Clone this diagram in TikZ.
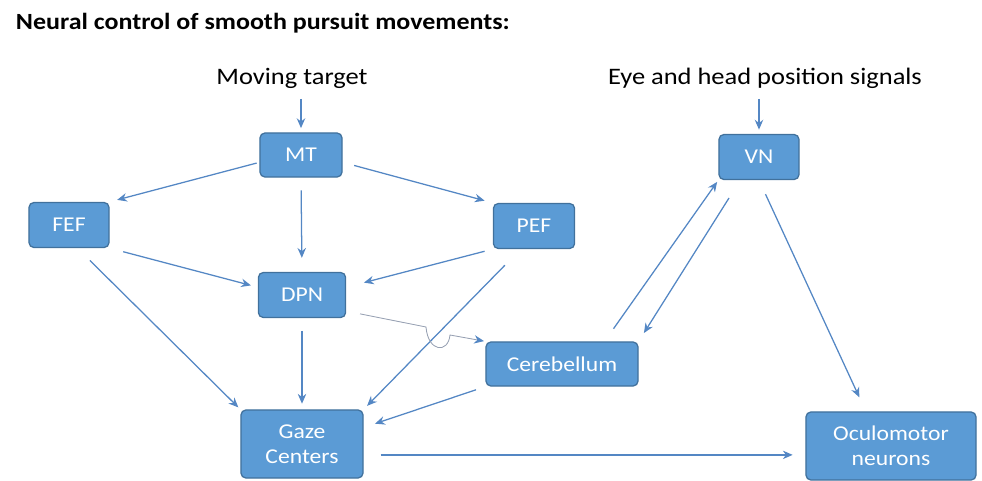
\documentclass[tikz,border=0pt]{standalone}
\usepackage{fontspec}
\setmainfont{Carlito}[FakeStretch=1.12]
\usepackage{xcolor}
\usetikzlibrary{arrows.meta}
\definecolor{boxblue}{RGB}{91,155,213}
\definecolor{boxedge}{RGB}{65,113,156}
\definecolor{lineblue}{RGB}{84,135,196}
\definecolor{hopgray}{RGB}{150,160,178}

\begin{document}
\begin{tikzpicture}[x=0.025cm, y=-0.025cm, >={Stealth[length=7pt,width=6pt]},
    area/.style={draw=boxedge, fill=boxblue, line width=0.9pt, rounded corners=3.5pt, text=white, font=\fontsize{15}{18}\selectfont, align=center, inner sep=0pt},
    link/.style={->, lineblue, line width=0.9pt}]
  \useasboundingbox (0,0) rectangle (982,481);

  \node[anchor=west, font=\bfseries\fontsize{16.5}{19}\selectfont] (title) at (11,23) {Neural control of smooth pursuit movements:};
  \node[font=\fontsize{16.8}{20}\selectfont] (target) at (292,78) {Moving target};
  \node[font=\fontsize{16.8}{20}\selectfont] (signals) at (765,78) {Eye and head position signals};

  \node[area, minimum width=2.05cm, minimum height=1.1cm] (mt) at (301,155) {MT};
  \node[area, minimum width=2.0cm, minimum height=1.125cm] (fef) at (69,225) {FEF};
  \node[area, minimum width=2.03cm, minimum height=1.125cm] (pef) at (534,226) {PEF};
  \node[area, minimum width=2.18cm, minimum height=1.125cm] (dpn) at (302,295) {DPN};
  \node[area, minimum width=3.8cm, minimum height=1.1cm] (cereb) at (562,364) {Cerebellum};
  \node[area, minimum width=3.05cm, minimum height=1.7cm] (gaze) at (302,444) {Gaze\\Centers};
  \node[area, minimum width=2.0cm, minimum height=1.125cm] (vn) at (759,157) {VN};
  \node[area, minimum width=4.25cm, minimum height=1.7cm] (oculo) at (891,446) {Oculomotor\\neurons};

  \coordinate (hopin) at (426,327);
  \coordinate (hopout) at (450,335);

  \draw[link, shorten <=4pt, shorten >=3pt] (target.south -| mt.north) -- (mt.north);
  \draw[link, shorten <=4pt, shorten >=3pt] (signals.south -| vn.north) -- (vn.north);
  \draw[link, shorten <=2pt, shorten >=5.5pt] (mt.190) -- (fef.north east);
  \draw[link, shorten <=8.5pt, shorten >=6pt] (mt.-10) -- (pef.north west);
  \draw[link, shorten <=9pt, shorten >=10pt] (mt.south) -- (dpn.north);
  \draw[link, shorten <=10pt, shorten >=5pt] (fef.south east) -- (dpn.170);
  \draw[link, shorten <=6pt, shorten >=13pt] (pef.south west) -- (dpn.10);
  \draw[link, shorten <=12.5pt, shorten >=2pt] (fef.-70) -- (gaze.north west);
  \draw[link, shorten <=9pt, shorten >=4pt] (dpn.south) -- (gaze.north);
  \draw[link, shorten <=16pt, shorten >=3.5pt] (pef.-120) -- (gaze.north east);
  \draw[link, shorten <=7pt, shorten >=8.5pt] (cereb.south west) -- (gaze.15);
  \draw[link, shorten <=11pt, shorten >=1.5pt] (cereb.28) -- (vn.south west);
  \draw[link, shorten <=15pt, shorten >=7pt] (vn.-129) -- (cereb.north east);
  \draw[link, shorten <=11pt, shorten >=11pt] (vn.south) -- (oculo.126);
  \draw[link, shorten <=12pt, shorten >=9pt] (gaze.-10) -- (gaze.-10 -| oculo.west);
  % thin line hopping over the PEF arrow
  \draw[-{Stealth[length=7pt,width=6pt,color=lineblue]}, hopgray, line width=0.6pt, shorten <=10pt, shorten >=1pt]
    (dpn.-20) -- (hopin) .. controls (428,352) and (448,354) .. (hopout) -- (cereb.north west);
\end{tikzpicture}
\end{document}
